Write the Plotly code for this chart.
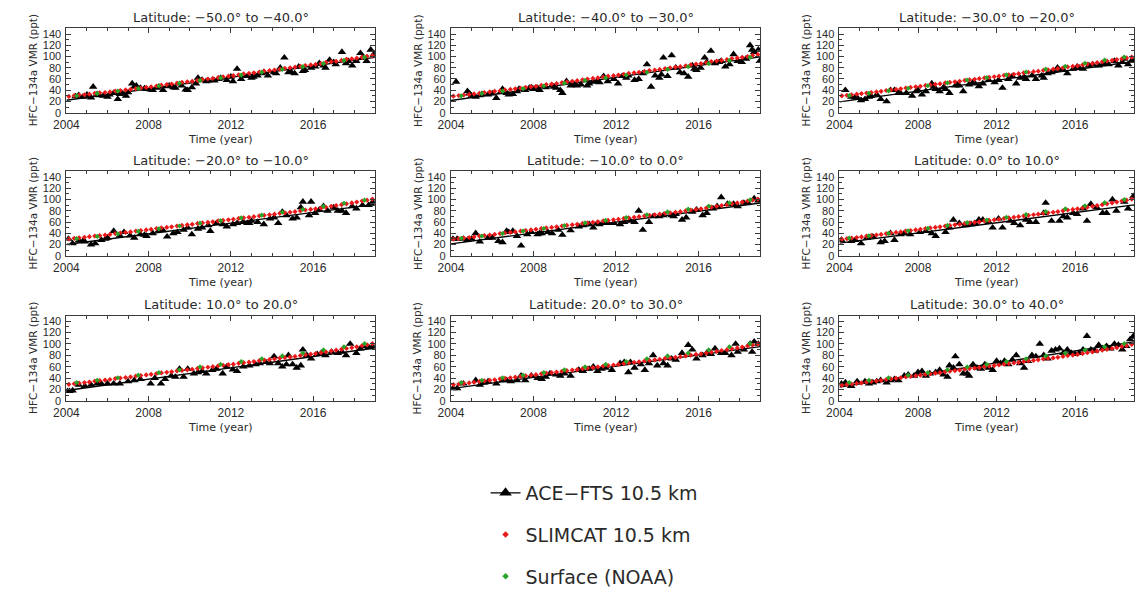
import plotly.graph_objects as go
import numpy as np

W, H = 1140, 596

titles = ["Latitude: −50.0° to −40.0°", "Latitude: −40.0° to −30.0°", "Latitude: −30.0° to −20.0°",
          "Latitude: −20.0° to −10.0°", "Latitude: −10.0° to 0.0°", "Latitude: 0.0° to 10.0°",
          "Latitude: 10.0° to 20.0°", "Latitude: 20.0° to 30.0°", "Latitude: 30.0° to 40.0°"]

# ---------------- ACE-FTS 10.5 km ----------------
ace_t1 = [2004.45, 2004.6, 2004.8, 2005.0, 2005.1, 2005.2, 2005.3, 2005.5, 2005.6, 2005.8, 2006.0, 2006.1, 2006.3, 2006.5, 2006.6, 2006.7, 2006.9, 2007.0, 2007.2, 2007.3, 2007.4, 2007.6, 2007.8, 2007.9, 2008.1, 2008.2, 2008.4, 2008.5, 2008.7, 2008.9, 2009.0, 2009.2, 2009.3, 2009.6, 2009.8, 2009.9, 2010.1, 2010.3, 2010.4, 2010.6, 2010.8, 2010.9, 2011.2, 2011.4, 2011.5, 2011.8, 2012.0, 2012.1, 2012.3, 2012.5, 2012.6, 2012.8, 2013.0, 2013.1, 2013.3, 2013.5, 2013.6, 2013.8, 2014.1, 2014.2, 2014.4, 2014.6, 2014.8, 2014.9, 2015.1, 2015.3, 2015.5, 2015.6, 2015.9, 2016.1, 2016.3, 2016.5, 2016.6, 2016.8, 2017.0, 2017.1, 2017.4, 2017.6, 2017.7, 2017.9, 2018.1, 2018.3, 2018.4, 2018.6, 2018.8, 2018.95]
ace_v1 = [29, 31, 28, 32, 29, 27, 46, 33, 31, 30, 28, 32, 35, 24, 33, 35, 30, 36, 52, 46, 48, 44, 43, 42, 41, 40, 44, 46, 40, 47, 48, 45, 44, 48, 41, 40, 45, 52, 62, 58, 56, 57, 57, 60, 62, 58, 64, 56, 78, 60, 66, 65, 62, 64, 66, 70, 72, 66, 72, 70, 80, 98, 72, 74, 70, 82, 74, 76, 80, 82, 88, 84, 80, 94, 90, 86, 108, 88, 92, 84, 92, 106, 98, 92, 112, 104]

ace_t2 = [2004.25, 2004.8, 2004.9, 2005.0, 2005.2, 2005.4, 2005.5, 2005.8, 2006.0, 2006.2, 2006.4, 2006.5, 2006.7, 2006.8, 2007.0, 2007.2, 2007.3, 2007.6, 2007.8, 2007.9, 2008.0, 2008.2, 2008.3, 2008.6, 2008.9, 2009.0, 2009.1, 2009.3, 2009.4, 2009.6, 2009.8, 2010.0, 2010.1, 2010.3, 2010.6, 2010.7, 2010.9, 2011.1, 2011.2, 2011.4, 2011.6, 2011.9, 2012.1, 2012.3, 2012.5, 2012.6, 2012.9, 2013.1, 2013.3, 2013.5, 2013.7, 2013.9, 2014.1, 2014.2, 2014.3, 2014.5, 2014.7, 2014.9, 2015.1, 2015.3, 2015.5, 2015.7, 2015.8, 2015.9, 2016.1, 2016.3, 2016.4, 2016.6, 2016.8, 2017.0, 2017.1, 2017.3, 2017.5, 2017.7, 2017.9, 2018.1, 2018.3, 2018.5, 2018.6, 2018.7, 2018.9, 2018.97]
ace_v2 = [55, 38, 34, 30, 28, 31, 33, 32, 34, 26, 36, 42, 35, 32, 33, 38, 42, 40, 44, 45, 42, 44, 40, 45, 48, 46, 44, 40, 35, 56, 48, 50, 48, 50, 48, 52, 55, 56, 54, 65, 56, 60, 52, 65, 62, 66, 58, 60, 70, 86, 46, 66, 62, 68, 98, 65, 102, 80, 72, 70, 64, 84, 78, 76, 80, 98, 90, 110, 88, 90, 92, 82, 86, 104, 92, 90, 96, 120, 112, 108, 112, 92]

ace_t3 = [2004.3, 2004.6, 2004.8, 2004.9, 2005.1, 2005.3, 2005.5, 2005.6, 2005.9, 2006.1, 2006.4, 2006.6, 2006.8, 2007.0, 2007.1, 2007.4, 2007.7, 2007.9, 2008.0, 2008.2, 2008.4, 2008.7, 2008.8, 2008.9, 2009.1, 2009.3, 2009.4, 2009.6, 2009.9, 2010.0, 2010.1, 2010.3, 2010.6, 2010.8, 2010.9, 2011.1, 2011.3, 2011.6, 2011.9, 2012.1, 2012.3, 2012.6, 2012.8, 2013.0, 2013.2, 2013.4, 2013.5, 2013.8, 2014.0, 2014.3, 2014.4, 2014.6, 2014.8, 2014.9, 2015.1, 2015.2, 2015.4, 2015.6, 2015.9, 2016.1, 2016.2, 2016.4, 2016.7, 2016.9, 2017.2, 2017.4, 2017.5, 2017.7, 2018.0, 2018.2, 2018.4, 2018.5, 2018.7, 2018.9]
ace_v3 = [40, 28, 27, 27, 22, 24, 28, 30, 32, 24, 20, 40, 40, 35, 35, 35, 30, 38, 40, 32, 38, 52, 46, 42, 38, 45, 42, 35, 48, 50, 48, 38, 50, 54, 52, 47, 52, 58, 54, 58, 44, 60, 65, 52, 62, 64, 60, 66, 60, 66, 62, 70, 72, 74, 80, 76, 76, 70, 78, 82, 80, 78, 84, 86, 84, 86, 88, 86, 92, 84, 90, 96, 86, 94]

ace_t4 = [2004.1, 2004.3, 2004.6, 2004.8, 2004.9, 2005.2, 2005.4, 2005.7, 2005.9, 2006.0, 2006.3, 2006.6, 2006.8, 2007.1, 2007.3, 2007.6, 2007.8, 2007.9, 2008.2, 2008.5, 2008.7, 2008.9, 2009.2, 2009.4, 2009.7, 2009.9, 2010.1, 2010.4, 2010.6, 2010.9, 2011.0, 2011.3, 2011.6, 2011.8, 2012.1, 2012.3, 2012.6, 2012.8, 2012.9, 2013.0, 2013.3, 2013.6, 2013.9, 2014.1, 2014.3, 2014.5, 2014.7, 2015.0, 2015.2, 2015.4, 2015.5, 2015.8, 2015.9, 2016.1, 2016.3, 2016.5, 2016.7, 2017.0, 2017.2, 2017.4, 2017.6, 2017.9, 2018.1, 2018.4, 2018.7, 2018.9]
ace_v4 = [30, 22, 27, 26, 25, 20, 22, 28, 30, 32, 44, 36, 42, 36, 32, 38, 37, 35, 40, 45, 45, 34, 40, 42, 46, 50, 38, 48, 50, 54, 44, 58, 56, 52, 56, 58, 60, 58, 58, 62, 60, 56, 66, 68, 58, 78, 72, 66, 68, 86, 96, 72, 96, 76, 82, 88, 80, 86, 80, 80, 76, 88, 84, 90, 90, 96]

ace_t5 = [2004.1, 2004.3, 2004.6, 2004.8, 2005.0, 2005.2, 2005.4, 2005.8, 2006.0, 2006.3, 2006.5, 2006.7, 2006.8, 2007.0, 2007.2, 2007.4, 2007.7, 2007.9, 2008.2, 2008.3, 2008.4, 2008.7, 2008.9, 2009.2, 2009.4, 2009.8, 2010.2, 2010.4, 2010.7, 2010.9, 2011.1, 2011.2, 2011.4, 2011.6, 2011.9, 2012.2, 2012.4, 2012.7, 2012.9, 2013.1, 2013.3, 2013.6, 2013.8, 2014.1, 2014.3, 2014.7, 2014.8, 2014.9, 2015.2, 2015.4, 2015.7, 2015.9, 2016.2, 2016.4, 2016.7, 2016.9, 2017.1, 2017.4, 2017.7, 2017.9, 2018.2, 2018.4, 2018.7, 2018.9]
ace_v5 = [30, 30, 30, 28, 30, 40, 25, 32, 32, 26, 24, 44, 42, 44, 35, 18, 38, 42, 38, 40, 40, 42, 40, 46, 37, 45, 52, 54, 56, 50, 58, 56, 58, 58, 58, 56, 60, 62, 60, 80, 46, 60, 70, 70, 72, 72, 70, 74, 64, 68, 78, 82, 72, 76, 84, 88, 104, 92, 92, 88, 94, 94, 102, 98]

ace_t6 = [2004.1, 2004.6, 2004.8, 2005.1, 2005.4, 2005.7, 2006.1, 2006.3, 2006.6, 2006.8, 2007.1, 2007.3, 2007.6, 2008.1, 2008.4, 2008.7, 2008.9, 2009.4, 2009.6, 2009.8, 2010.1, 2010.4, 2010.7, 2010.9, 2011.1, 2011.3, 2011.6, 2011.8, 2012.1, 2012.3, 2012.7, 2012.9, 2013.2, 2013.5, 2013.7, 2014.0, 2014.4, 2014.5, 2014.8, 2015.2, 2015.4, 2015.6, 2015.9, 2016.1, 2016.4, 2016.6, 2016.8, 2017.1, 2017.4, 2017.6, 2017.9, 2018.1, 2018.5, 2018.7, 2018.97]
ace_v6 = [28, 26, 28, 22, 32, 34, 24, 26, 40, 28, 38, 40, 38, 42, 44, 40, 35, 42, 50, 64, 58, 54, 56, 58, 64, 64, 60, 50, 66, 50, 62, 58, 54, 64, 60, 60, 76, 94, 62, 62, 70, 68, 76, 74, 84, 62, 92, 86, 76, 76, 100, 80, 96, 84, 106]

ace_t7 = [2004.05, 2004.15, 2004.3, 2004.6, 2004.9, 2005.2, 2005.5, 2005.7, 2006.0, 2006.3, 2006.6, 2007.0, 2007.3, 2007.6, 2008.1, 2008.3, 2008.6, 2008.8, 2009.1, 2009.3, 2009.5, 2009.7, 2009.9, 2010.2, 2010.4, 2010.6, 2010.8, 2011.1, 2011.3, 2011.6, 2011.8, 2012.1, 2012.3, 2012.6, 2012.9, 2013.2, 2013.4, 2013.7, 2013.9, 2014.1, 2014.3, 2014.5, 2014.7, 2014.8, 2015.0, 2015.2, 2015.4, 2015.5, 2015.7, 2015.9, 2016.2, 2016.4, 2016.6, 2016.9, 2017.2, 2017.4, 2017.6, 2017.8, 2018.1, 2018.3, 2018.5, 2018.7, 2018.9]
ace_v7 = [17, 17, 18, 28, 26, 28, 30, 30, 30, 30, 30, 34, 36, 38, 30, 40, 30, 38, 44, 42, 56, 42, 56, 48, 50, 52, 48, 54, 56, 48, 60, 55, 52, 60, 62, 64, 66, 68, 66, 78, 66, 60, 64, 80, 64, 58, 62, 90, 80, 74, 82, 84, 80, 86, 84, 86, 80, 100, 84, 92, 96, 94, 96]

ace_t8 = [2004.1, 2004.3, 2004.6, 2005.2, 2005.4, 2005.6, 2005.8, 2006.2, 2006.5, 2006.7, 2006.9, 2007.2, 2007.4, 2007.6, 2007.9, 2008.2, 2008.4, 2008.6, 2008.8, 2009.1, 2009.3, 2009.5, 2009.8, 2010.2, 2010.4, 2010.7, 2010.9, 2011.1, 2011.3, 2011.5, 2011.8, 2012.2, 2012.4, 2012.6, 2012.7, 2012.9, 2013.2, 2013.4, 2013.6, 2013.8, 2014.0, 2014.3, 2014.5, 2014.7, 2014.9, 2015.2, 2015.5, 2015.7, 2015.9, 2016.2, 2016.4, 2016.6, 2016.8, 2017.1, 2017.3, 2017.6, 2017.8, 2017.9, 2018.2, 2018.5, 2018.6, 2018.7, 2018.9]
ace_v8 = [22, 22, 30, 36, 28, 32, 34, 30, 36, 36, 34, 36, 44, 36, 44, 40, 38, 42, 48, 46, 44, 48, 44, 54, 52, 56, 60, 52, 56, 58, 54, 66, 68, 50, 68, 58, 64, 54, 66, 80, 62, 66, 62, 74, 72, 84, 98, 90, 74, 80, 84, 82, 92, 84, 84, 80, 100, 86, 90, 100, 86, 104, 100]

ace_t9 = [2004.1, 2004.3, 2004.6, 2004.9, 2005.3, 2005.5, 2005.7, 2005.9, 2006.1, 2006.4, 2006.6, 2006.8, 2007.0, 2007.3, 2007.5, 2007.8, 2008.0, 2008.2, 2008.4, 2008.6, 2008.9, 2009.1, 2009.3, 2009.5, 2009.6, 2009.8, 2009.9, 2010.1, 2010.3, 2010.5, 2010.6, 2010.8, 2011.0, 2011.2, 2011.4, 2011.6, 2011.8, 2012.0, 2012.2, 2012.4, 2012.6, 2012.8, 2013.0, 2013.2, 2013.4, 2013.6, 2013.8, 2014.0, 2014.2, 2014.4, 2014.6, 2014.8, 2015.0, 2015.2, 2015.4, 2015.6, 2015.8, 2016.0, 2016.2, 2016.4, 2016.6, 2016.8, 2017.0, 2017.2, 2017.4, 2017.6, 2017.8, 2018.0, 2018.2, 2018.4, 2018.6, 2018.8, 2018.97]
ace_v9 = [30, 32, 26, 34, 34, 30, 32, 34, 36, 32, 36, 38, 36, 44, 46, 44, 50, 52, 44, 48, 50, 54, 46, 42, 62, 58, 78, 64, 48, 48, 44, 64, 58, 56, 64, 58, 54, 70, 66, 70, 64, 72, 80, 66, 58, 70, 80, 78, 100, 80, 74, 88, 90, 92, 84, 90, 84, 82, 84, 90, 114, 90, 88, 98, 92, 96, 92, 100, 98, 90, 96, 108, 114]

# ---------------- SLIMCAT 10.5 km (quarterly) ----------------
slim_t = [2004.12, 2004.38, 2004.62, 2004.88, 2005.12, 2005.38, 2005.62, 2005.88, 2006.12, 2006.38, 2006.62, 2006.88,
          2007.12, 2007.38, 2007.62, 2007.88, 2008.12, 2008.38, 2008.62, 2008.88, 2009.12, 2009.38, 2009.62, 2009.88,
          2010.12, 2010.38, 2010.62, 2010.88, 2011.12, 2011.38, 2011.62, 2011.88, 2012.12, 2012.38, 2012.62, 2012.88,
          2013.12, 2013.38, 2013.62, 2013.88, 2014.12, 2014.38, 2014.62, 2014.88, 2015.12, 2015.38, 2015.62, 2015.88,
          2016.12, 2016.38, 2016.62, 2016.88, 2017.12, 2017.38, 2017.62, 2017.88, 2018.12, 2018.38, 2018.62, 2018.88]
slim_v1 = [29, 30.5, 31.5, 32, 33, 34.5, 35.5, 36, 37, 38.5, 39.5, 40.5, 41.5, 43, 44, 45, 46, 47.5, 49, 50, 51, 52.5, 54, 55, 56, 57.5, 59, 60, 61, 62.5, 64, 65, 66, 67.5, 69, 70, 71, 72.5, 74, 75, 76, 77.5, 79, 80, 81, 82.5, 84, 85, 86, 87.5, 89.5, 90.5, 91.5, 93, 95, 96, 97, 98.5, 100.5, 101.5]
slim_v2 = [29.5, 30.5, 31.5, 32.5, 33.5, 34.5, 36, 37, 38, 39, 40.5, 41.5, 42.5, 43.5, 45, 46, 47, 48.5, 50, 51, 52, 53.5, 55, 56, 57, 58.5, 60, 61, 62, 63.5, 65, 66, 67, 68.5, 70, 71, 72, 73.5, 75, 76, 77, 78.5, 80, 81, 82, 83.5, 85, 86.5, 87.5, 89, 91, 92, 93, 94.5, 96.5, 97.5, 98.5, 100, 102, 103.5]
slim_v3 = [30, 31, 32, 33, 34, 35, 36, 37, 38, 39.5, 40.5, 41.5, 42.5, 44, 45, 46, 47, 48.5, 49.5, 50.5, 51.5, 53, 54, 55, 56, 57.5, 58.5, 59.5, 60.5, 62, 63, 64, 65, 66.5, 67.5, 68.5, 69.5, 71, 72, 73, 74, 75.5, 76.5, 77.5, 78.5, 80, 81.5, 82.5, 83.5, 85, 86.5, 87.5, 89, 90.5, 92, 93, 94.5, 96, 97.5, 99]
slim_v4 = [30, 31, 32, 33, 34, 35, 36, 37, 38, 39.5, 40.5, 41.5, 42.5, 44, 45, 46, 47, 48.5, 49.5, 50.5, 51.5, 53, 54, 55, 56, 57.5, 58.5, 59.5, 60.5, 62, 63, 64, 65, 66.5, 67.5, 68.5, 69.5, 71, 72, 73, 74, 75.5, 76.5, 77.5, 78.5, 80, 81.5, 82.5, 83.5, 85, 86.5, 88, 89.5, 91, 92.5, 94, 95.5, 97.5, 99, 101]
slim_v5 = [29.5, 30.5, 31.5, 32.5, 33.5, 35, 36, 37, 38, 39.5, 40.5, 41.5, 42.5, 44, 45, 46, 47, 48.5, 49.5, 50.5, 51.5, 53, 54, 55, 56, 57.5, 58.5, 59.5, 60.5, 62, 63, 64, 65, 66.5, 67.5, 68.5, 69.5, 71, 72, 73, 74, 75.5, 76.5, 77.5, 78.5, 80, 81.5, 82.5, 83.5, 85, 86.5, 88, 89.5, 91, 92.5, 94, 95.5, 97.5, 99, 101]
slim_v6 = [29.5, 30.5, 31.5, 32.5, 33.5, 35, 36, 37, 38, 39.5, 40.5, 41.5, 42.5, 44, 45, 46, 47, 48.5, 49.5, 50.5, 51.5, 53, 54, 55, 56, 57.5, 58.5, 59.5, 60.5, 62, 63, 64, 65, 66.5, 67.5, 68.5, 69.5, 71, 72, 73, 74, 75.5, 76.5, 77.5, 78.5, 80, 81.5, 82.5, 83.5, 85, 86.5, 88, 89.5, 91, 92.5, 94, 95.5, 97.5, 99, 101]
slim_v7 = [29, 30, 31, 32, 33, 34.5, 35.5, 36.5, 37.5, 39, 40, 41, 42, 43.5, 44.5, 45.5, 46.5, 48, 49, 50, 51, 52.5, 53.5, 54.5, 55.5, 57, 58, 59, 60, 61.5, 62.5, 63.5, 64.5, 66, 67, 68, 69, 70.5, 71.5, 72.5, 73.5, 75, 76, 77, 78, 79.5, 81, 82, 83, 84.5, 86, 87.5, 89, 90.5, 92, 93.5, 95, 97, 98.5, 100.5]
slim_v8 = [28.5, 29.5, 30.5, 31.5, 32.5, 34, 35, 36, 37, 38.5, 39.5, 40.5, 41.5, 43, 44, 45, 46, 47.5, 48.5, 49.5, 50.5, 52, 53, 54, 55, 56.5, 57.5, 58.5, 59.5, 61, 62, 63, 64, 65.5, 66.5, 67.5, 68.5, 70, 71, 72, 73, 74.5, 75.5, 76.5, 77.5, 79, 80.5, 81.5, 82.5, 84, 85.5, 87, 88.5, 90, 91.5, 93, 94.5, 96.5, 98, 100]
slim_v9 = [27.5, 28.5, 29.5, 30.5, 31.5, 33, 34, 35, 36, 37.5, 38.5, 39.5, 40.5, 42, 43, 44, 45, 46.5, 47.5, 48.5, 49.5, 51, 52, 53, 54, 55.5, 56.5, 57.5, 58.5, 60, 61, 62, 63, 64.5, 65.5, 66.5, 67.5, 69, 70, 71, 72, 73.5, 74.5, 75.5, 76.5, 78, 79.5, 80.5, 81.5, 83, 84.5, 86, 87.5, 89, 90.5, 92, 93.5, 95.5, 97, 99]

# ---------------- Surface (NOAA), yearly ----------------
noaa_t = [2004.5, 2005.5, 2006.5, 2007.5, 2008.5, 2009.5, 2010.5, 2011.5, 2012.5, 2013.5, 2014.5, 2015.5, 2016.5, 2017.5, 2018.5]
noaa_v1 = [30, 34, 38.5, 43, 47.5, 52.5, 57.5, 62, 67, 72, 77, 82, 87.5, 93, 98.5]
noaa_v2 = [30, 34, 38.5, 43, 47.5, 52.5, 57.5, 62, 67, 72, 77, 82, 87.5, 93, 98.5]
noaa_v3 = [30.5, 34.5, 39, 43.5, 48, 53, 58, 62.5, 67.5, 72.5, 77.5, 82.5, 88, 93.5, 99]
noaa_v4 = [30.5, 34.5, 39, 43.5, 48, 53, 58, 62.5, 67.5, 72.5, 77.5, 82.5, 88, 93.5, 99]
noaa_v5 = [31, 35, 39.5, 44, 48.5, 53.5, 58.5, 63, 68, 73, 78, 83, 88.5, 94, 99.5]
noaa_v6 = [31.5, 35.5, 40, 44.5, 49, 54, 59, 63.5, 68.5, 73.5, 78.5, 83.5, 89, 94.5, 100]
noaa_v7 = [32, 36, 40.5, 45, 49.5, 54.5, 59.5, 64, 69, 74, 79, 84, 89.5, 95, 100.5]
noaa_v8 = [32, 36, 40.5, 45, 49.5, 54.5, 59.5, 64, 69, 74, 79, 84, 89.5, 95, 100.5]
noaa_v9 = [32, 36, 40.5, 45, 49.5, 54.5, 59.5, 64, 69, 74, 79, 84, 89.5, 95, 100.5]

ace_t = [ace_t1, ace_t2, ace_t3, ace_t4, ace_t5, ace_t6, ace_t7, ace_t8, ace_t9]
ace_v = [ace_v1, ace_v2, ace_v3, ace_v4, ace_v5, ace_v6, ace_v7, ace_v8, ace_v9]
slim_v = [slim_v1, slim_v2, slim_v3, slim_v4, slim_v5, slim_v6, slim_v7, slim_v8, slim_v9]
noaa_v = [noaa_v1, noaa_v2, noaa_v3, noaa_v4, noaa_v5, noaa_v6, noaa_v7, noaa_v8, noaa_v9]

# ---------------- layout geometry (pixels) ----------------
col_px = [(54, 366), (443, 756), (836, 1134)]
row_px = [(28, 114), (174, 260), (321, 408)]

RED = "rgb(235,25,25)"
GREEN = "rgb(40,165,40)"
TXT = "#2a2a2a"
AX = "#3a3a3a"
FONT = "Liberation Sans"
WIDE = "DejaVu Sans"

fig = go.Figure()

# legend-only entries
fig.add_trace(go.Scatter(x=[None], y=[None], mode="lines+markers", name="ACE−FTS 10.5 km",
                         line=dict(color="black", width=1.3),
                         marker=dict(symbol="triangle-up", size=11, color="black"),
                         legendgroup="a", xaxis="x", yaxis="y"))
fig.add_trace(go.Scatter(x=[None], y=[None], mode="markers", name="SLIMCAT 10.5 km",
                         marker=dict(symbol="diamond", size=5, color=RED),
                         legendgroup="b", xaxis="x", yaxis="y"))
fig.add_trace(go.Scatter(x=[None], y=[None], mode="markers", name="Surface (NOAA)",
                         marker=dict(symbol="diamond", size=5, color=GREEN),
                         legendgroup="c", xaxis="x", yaxis="y"))

layout = dict(width=W, height=H, autosize=False,
              margin=dict(l=0, r=0, t=0, b=0),
              paper_bgcolor="white", plot_bgcolor="white",
              font=dict(family=FONT, color=TXT),
              showlegend=True,
              legend=dict(x=478 / W, y=1 - 483 / H, xanchor="left", yanchor="top",
                          font=dict(size=19, family=WIDE, color=TXT),
                          tracegroupgap=14, bgcolor="rgba(0,0,0,0)", itemsizing="trace"),
              annotations=[])

for i in range(9):
    r, c = divmod(i, 3)
    x0, x1 = col_px[c]
    y0, y1 = row_px[r]
    xa = "x" if i == 0 else f"x{i+1}"
    ya = "y" if i == 0 else f"y{i+1}"
    t = np.array(ace_t[i])
    v = np.array(ace_v[i])
    # ACE triangles
    fig.add_trace(go.Scatter(x=t, y=v, mode="markers", showlegend=False, xaxis=xa, yaxis=ya,
                             marker=dict(symbol="triangle-up", size=7.5, color="black", line=dict(width=0))))
    # linear fit of the ACE data
    p = np.polyfit(t, v, 1)
    xf = np.array([2004.0, 2019.0])
    fig.add_trace(go.Scatter(x=xf, y=np.polyval(p, xf), mode="lines", showlegend=False,
                             xaxis=xa, yaxis=ya, line=dict(color="black", width=1.4)))
    # SLIMCAT
    fig.add_trace(go.Scatter(x=slim_t, y=slim_v[i], mode="markers", showlegend=False, xaxis=xa, yaxis=ya,
                             marker=dict(symbol="diamond", size=4, color=RED, line=dict(width=0))))
    # NOAA
    fig.add_trace(go.Scatter(x=noaa_t, y=noaa_v[i], mode="markers", showlegend=False, xaxis=xa, yaxis=ya,
                             marker=dict(symbol="diamond", size=4, color=GREEN, line=dict(width=0))))

    xkey = "xaxis" if i == 0 else f"xaxis{i+1}"
    ykey = "yaxis" if i == 0 else f"yaxis{i+1}"
    layout[xkey] = dict(domain=[x0 / W, x1 / W], anchor=ya, range=[2004, 2019],
                        tickmode="linear", tick0=2004, dtick=4,
                        ticks="inside", ticklen=5, tickwidth=1, tickcolor=AX,
                        showline=True, linecolor=AX, linewidth=1, mirror="allticks",
                        minor=dict(ticks="inside", ticklen=3, tickwidth=1, tickcolor=AX, tick0=2004, dtick=1),
                        showgrid=False, zeroline=False, ticklabelstandoff=1,
                        tickfont=dict(size=12, family=FONT, color=TXT))
    layout[ykey] = dict(domain=[1 - y1 / H, 1 - y0 / H], anchor=xa, range=[0, 150],
                        tickmode="linear", tick0=0, dtick=20,
                        ticks="inside", ticklen=5, tickwidth=1, tickcolor=AX,
                        showline=True, linecolor=AX, linewidth=1, mirror="allticks",
                        minor=dict(ticks="inside", ticklen=3, tickwidth=1, tickcolor=AX, tick0=0, dtick=10),
                        showgrid=False, zeroline=False, ticklabelstandoff=2,
                        tickfont=dict(size=11, family=FONT, color=TXT))
    # panel title
    layout["annotations"].append(dict(text=titles[i], x=(x0 + x1) / 2 / W, y=1 - (y0 - 11) / H,
                                      xref="paper", yref="paper", showarrow=False,
                                      xanchor="center", yanchor="middle",
                                      font=dict(size=13, family=WIDE, color=TXT)))
    # x title
    layout["annotations"].append(dict(text="Time (year)", x=(x0 + x1) / 2 / W, y=1 - (y1 + 27) / H,
                                      xref="paper", yref="paper", showarrow=False,
                                      xanchor="center", yanchor="middle",
                                      font=dict(size=11, family=WIDE, color=TXT)))
    # y title
    layout["annotations"].append(dict(text="HFC−134a VMR (ppt)", x=(x0 - 34) / W, y=1 - (y0 + y1) / 2 / H,
                                      xref="paper", yref="paper", showarrow=False, textangle=-90,
                                      xanchor="center", yanchor="middle",
                                      font=dict(size=10.5, family=WIDE, color=TXT)))

fig.update_layout(**layout)
fig.write_html("out.html", config={"displayModeBar": False},
               post_script="document.body.style.margin='0';")
